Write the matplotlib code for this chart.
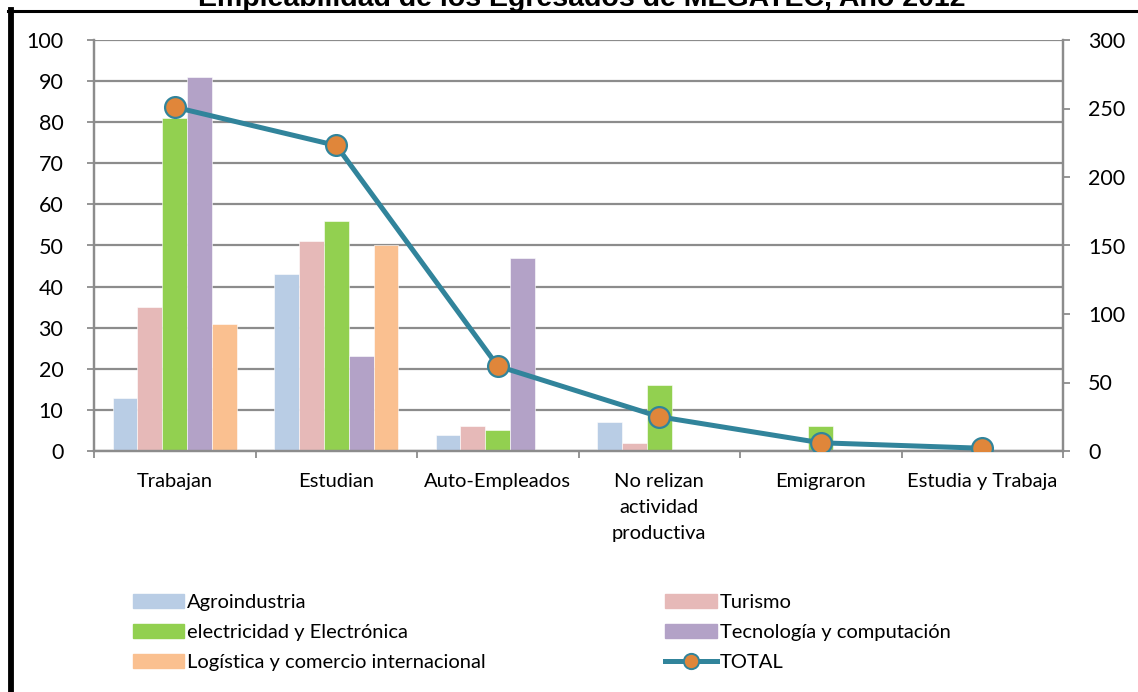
import matplotlib
matplotlib.use("Agg")
import matplotlib.pyplot as plt
from matplotlib.lines import Line2D
from matplotlib.patches import Patch
import numpy as np

categories = ["Trabajan", "Estudian", "Auto-Empleados",
              "No relizan\nactividad\nproductiva", "Emigraron", "Estudia y Trabaja"]
series_names = ["Agroindustria", "Turismo", "electricidad y Electrónica",
                "Tecnología y computación", "Logística y comercio internacional"]
agroindustria = [13, 43, 4, 7, 0, 0]
turismo = [35, 51, 6, 2, 0, 0]
electronica = [81, 56, 5, 16, 6, 0]
tecnologia = [91, 23, 47, 0, 0, 0]
logistica = [31, 50, 0, 0, 0, 0]
total = [251, 223, 62, 25, 6, 2]
title = "Empleabilidad de los Egresados de MEGATEC, Año 2012"

colors = ["#B9CDE5", "#E6B9B8", "#92D050", "#B3A2C7", "#FAC090"]
line_color = "#31849B"
marker_color = "#E0863A"
grid_color = "#8C8C8C"

plt.rcParams["font.family"] = ["Lato", "DejaVu Sans"]

W, H = 1138, 692
fig = plt.figure(figsize=(W / 100, H / 100), dpi=100)
ax = fig.add_axes([94 / W, 1 - 451 / H, (1063 - 94) / W, (451 - 40) / H])
ax2 = ax.twinx()

series = [agroindustria, turismo, electronica, tecnologia, logistica]
x = np.arange(len(categories)) + 0.5
bw = 0.154
for i, (vals, col, name) in enumerate(zip(series, colors, series_names)):
    ax.bar(x + (i - 2) * bw, vals, width=bw, color=col, edgecolor="white",
           linewidth=0.4, label=name, zorder=2)

ax2.plot(x, total, color=line_color, lw=3.6, marker="o", ms=15,
         mfc=marker_color, mec=line_color, mew=1.6, zorder=5, label="TOTAL",
         solid_capstyle="butt")

ax.set_xlim(0, len(categories))
ax.set_ylim(0, 100)
ax2.set_ylim(0, 300)
ax.set_yticks(np.arange(0, 101, 10))
ax2.set_yticks(np.arange(0, 301, 50))
ax.set_axisbelow(True)
ax.yaxis.grid(True, color=grid_color, lw=1.6)
ax.set_xticks(np.arange(0, len(categories) + 1), minor=False)
ax.set_xticklabels([])
ax.set_xticks(x, minor=True)
ax.set_xticklabels(categories, minor=True, fontsize=14.5, linespacing=1.62)
ax.tick_params(axis="x", which="minor", length=0, pad=16)
ax.tick_params(axis="x", which="major", length=5, color=grid_color, width=1.3)
ax.tick_params(axis="y", length=5, color=grid_color, width=1.3, labelsize=15.5, pad=17)
ax2.tick_params(axis="y", length=5, color=grid_color, width=1.3, labelsize=15.5, pad=13)

for a in (ax, ax2):
    a.spines["top"].set_visible(False)
    for side in ("left", "right", "bottom"):
        a.spines[side].set_color(grid_color)
        a.spines[side].set_linewidth(1.6)

# Legend in two columns, row-major order
handles = [Patch(color=c) for c in colors]
line_handle = Line2D([], [], color=line_color, lw=3.6, marker="o", ms=11,
                     mfc=marker_color, mec=line_color, mew=1.4)
order_h = [handles[0], handles[2], handles[4], handles[1], handles[3], line_handle]
order_l = [series_names[0], series_names[2], series_names[4],
           series_names[1], series_names[3], "TOTAL"]
fig.legend(order_h, order_l, ncol=2, loc="upper left",
           bbox_to_anchor=(133 / W, 1 - 594 / H), frameon=False, fontsize=14.5,
           handlelength=2.55, handleheight=0.7, handletextpad=0.15,
           columnspacing=8.9, labelspacing=0.63, borderpad=0, borderaxespad=0)

# Title and frame
fig.text(582 / W, 1 - 6 / H, title, ha="center", va="baseline",
         fontsize=20.5, fontweight="bold", family=["Liberation Sans", "DejaVu Sans"])
fig.add_artist(Line2D([8 / W, 1], [1 - 11 / H, 1 - 11 / H], transform=fig.transFigure,
                      color="black", lw=2.2))
fig.add_artist(Line2D([11 / W, 11 / W], [0, 1 - 10 / H], transform=fig.transFigure,
                      color="black", lw=4.2))

fig.savefig("out.png", dpi=100)
